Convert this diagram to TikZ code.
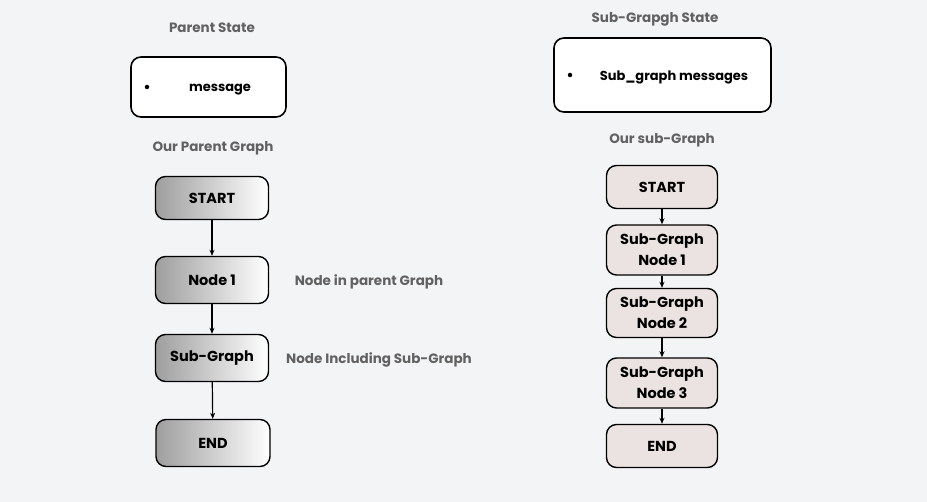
\documentclass[tikz,border=0pt]{standalone}
\usepackage{fontspec}
\setmainfont{Poppins}
\usetikzlibrary{arrows.meta}

\definecolor{bgcol}{HTML}{F3F4F6}
\definecolor{labelgray}{HTML}{616161}
\definecolor{subfill}{HTML}{EBE3E1}

\tikzset{
  statebox/.style={draw=black, line width=1.6pt, rounded corners=10pt, fill=white},
  parentnode/.style={draw=black, line width=1.4pt, rounded corners=10pt, left color=black!38, right color=white, minimum width=113pt, minimum height=47pt, font=\fontsize{14.5}{21}\selectfont\bfseries, align=center},
  subnode/.style={draw=black, line width=1.4pt, rounded corners=10pt, fill=subfill, minimum width=111pt, font=\fontsize{14.5}{21}\selectfont\bfseries, align=center},
  caption/.style={text=labelgray, font=\fontsize{13.5}{16}\selectfont\bfseries, yshift=-1.5pt},
  itemtext/.style={font=\fontsize{13}{15}\selectfont\bfseries, yshift=-2.5pt},
  bullet/.style={circle, fill=black, inner sep=0pt, minimum size=4.5pt},
  flow/.style={-{Stealth[length=6pt,width=5pt]}, line width=1.2pt}
}

\begin{document}
\begin{tikzpicture}[x=1pt, y=-1pt]
  \useasboundingbox[fill=bgcol] (0,0) rectangle (927,502);

  % Parent state
  \node[caption] (pstatelbl) at (212,26) {Parent State};
  \draw[statebox] (131,57) rectangle (286,117);
  \node[bullet] (pbullet) at (147,87) {};
  \node[itemtext] (pmsg) at (220,87) {message};

  % Sub-graph state
  \node[caption] (sstatelbl) at (655,18) {Sub-Grapgh State};
  \draw[statebox] (554,38) rectangle (771,112);
  \node[bullet] (sbullet) at (570,75) {};
  \node[itemtext] (smsg) at (674,75) {Sub\_graph messages};

  % Parent graph
  \node[caption] (pgraphlbl) at (213,147) {Our Parent Graph};
  \node[parentnode, minimum height=43pt] (pstart) at (212,198) {START};
  \node[parentnode] (pnode) at (212,280) {Node 1};
  \node[parentnode] (psub) at (212,358) {Sub-Graph};
  \node[parentnode, minimum width=114pt] (pend) at (213,443) {END};

  \draw[flow] (pstart) -- (pnode);
  \draw[flow] (pnode) -- (psub);
  \draw[flow] (psub) -- (pend);

  \node[caption] (nodelbl) at (369,280) {Node in parent Graph};
  \node[caption] (sublbl) at (379,358) {Node Including Sub-Graph};

  % Sub graph
  \node[caption] (sgraphlbl) at (662,139) {Our sub-Graph};
  \node[subnode, minimum height=43pt] (sstart) at (662,187) {START};
  \node[subnode, minimum height=50pt] (sone) at (662,250) {Sub-Graph\\Node 1};
  \node[subnode, minimum height=49pt] (stwo) at (662,313) {Sub-Graph\\Node 2};
  \node[subnode, minimum height=50pt] (sthree) at (662,383) {Sub-Graph\\Node 3};
  \node[subnode, minimum height=43pt] (send) at (662,446) {END};

  \draw[flow] (sstart) -- (sone);
  \draw[flow] (sone) -- (stwo);
  \draw[flow] (stwo) -- (sthree);
  \draw[flow] (sthree) -- (send);
\end{tikzpicture}
\end{document}
